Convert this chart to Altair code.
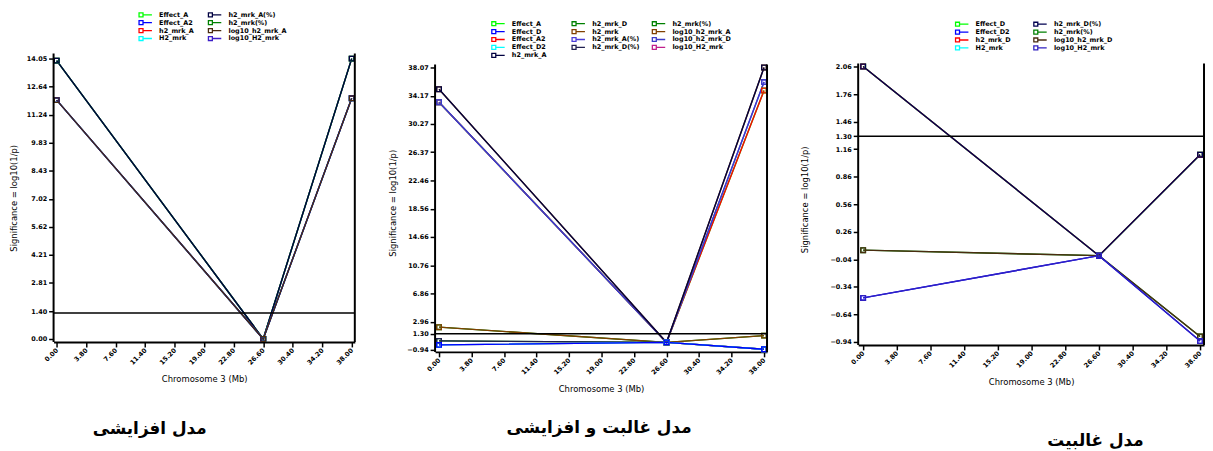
import altair as alt
import pandas as pd

FONT = "DejaVu Sans"
X_TITLE = "Chromosome 3 (Mb)"
Y_TITLE = "Significance = log10(1/p)"
THRESHOLD = 1.30
POS = [0.0, 26.6, 38.0]
X_TICKS = [0.00, 3.80, 7.60, 11.40, 15.20, 19.00, 22.80, 26.60, 30.40, 34.20, 38.00]

# ---------- panel 1 : additive model
P1_TITLE = "مدل افزایشی"
P1_LEGEND = [["Effect_A", "Effect_A2", "h2_mrk_A", "H2_mrk"],
             ["h2_mrk_A(%)", "h2_mrk(%)", "log10_h2_mrk_A", "log10_H2_mrk"]]
P1_NAMES = ["h2_mrk_A", "H2_mrk", "h2_mrk(%)", "h2_mrk_A(%)",
            "Effect_A", "log10_H2_mrk", "Effect_A2", "log10_h2_mrk_A"]
P1_COLORS = ["#ff0000", "#00ffff", "#008000", "#000040",
             "#00ff00", "#3c1ec8", "#0000ff", "#4a2c10"]
P1_VALUES = [[13.95, 0.00, 14.05], [13.95, 0.00, 14.05], [13.95, 0.00, 14.05], [13.95, 0.00, 14.05],
             [11.97, 0.00, 12.06], [11.97, 0.00, 12.06], [11.97, 0.00, 12.06], [11.97, 0.00, 12.06]]
P1_YTICKS = [0.00, 1.40, 2.81, 4.21, 5.62, 7.02, 8.43, 9.83, 11.24, 12.64, 14.05]

# ---------- panel 2 : dominance + additive model
P2_TITLE = "مدل غالبت و افزایشی"
P2_LEGEND = [["Effect_A", "Effect_D", "Effect_A2", "Effect_D2", "h2_mrk_A"],
             ["h2_mrk_D", "h2_mrk", "h2_mrk_A(%)", "h2_mrk_D(%)"],
             ["h2_mrk(%)", "log10_h2_mrk_A", "log10_h2_mrk_D", "log10_H2_mrk"]]
P2_NAMES = ["Effect_A", "Effect_A2", "h2_mrk_A(%)", "log10_h2_mrk_D", "log10_h2_mrk_A", "h2_mrk_A",
            "h2_mrk(%)", "h2_mrk", "h2_mrk_D", "h2_mrk_D(%)", "log10_H2_mrk", "Effect_D2", "Effect_D"]
P2_COLORS = ["#00ff00", "#ff0000", "#4a3cd8", "#3c3cc8", "#804000", "#000040",
             "#008000", "#804000", "#008000", "#202050", "#c0208c", "#00ffff", "#0000ff"]
P2_VALUES = [[33.28, 0.10, 34.90], [33.28, 0.10, 34.90], [33.28, 0.10, 36.06], [33.28, 0.10, 36.06],
             [35.06, 0.10, 38.07], [35.06, 0.10, 38.07], [2.20, 0.10, 1.03], [2.20, 0.10, 1.03],
             [0.30, 0.10, -0.85], [0.30, 0.10, -0.85], [-0.25, 0.10, -0.85], [-0.25, 0.10, -0.85],
             [-0.25, 0.10, -0.85]]
P2_YTICKS = [-0.94, 1.30, 2.96, 6.86, 10.76, 14.66, 18.56, 22.46, 26.37, 30.27, 34.17, 38.07]

# ---------- panel 3 : dominance model
P3_TITLE = "مدل غالبیت"
P3_LEGEND = [["Effect_D", "Effect_D2", "h2_mrk_D", "H2_mrk"],
             ["h2_mrk_D(%)", "h2_mrk(%)", "log10_h2_mrk_D", "log10_H2_mrk"]]
P3_NAMES = ["Effect_D", "H2_mrk", "h2_mrk_D", "h2_mrk_D(%)",
            "h2_mrk(%)", "log10_h2_mrk_D", "Effect_D2", "log10_H2_mrk"]
P3_COLORS = ["#00ff00", "#00ffff", "#ff0000", "#000050",
             "#008000", "#4a2c10", "#0000ff", "#3020c0"]
P3_VALUES = [[2.06, 0.00, 1.10], [2.06, 0.00, 1.10], [2.06, 0.00, 1.10], [2.06, 0.00, 1.10],
             [0.06, 0.00, -0.88], [0.06, 0.00, -0.88], [-0.46, 0.00, -0.93], [-0.46, 0.00, -0.93]]
P3_YTICKS = [-0.94, -0.64, -0.34, -0.04, 0.26, 0.56, 0.86, 1.16, 1.30, 1.46, 1.76, 2.06]

SYMBOL = "M-1.33,-1.33H1.33V1.33H-1.33Z M1.33,0H7.33"


def legend_order(cols):
    out = []
    for i in range(max(len(c) for c in cols)):
        for c in cols:
            if i < len(c):
                out.append(c[i])
    return out


def panel(names, colors, values, legend_cols, yticks, xdom, ydom, frame_top, width, height,
          leg_x, leg_y, col_pad, grid_align, title, title_dx, title_off, ytitle_pad):
    df = pd.DataFrame([{"series": n, "pos": p, "val": v}
                       for n, vals in zip(names, values) for p, v in zip(POS, vals)])
    order = legend_order(legend_cols)
    cmap = dict(zip(names, colors))
    color = alt.Color(
        "series:N",
        scale=alt.Scale(domain=order, range=[cmap[n] for n in order]),
        legend=alt.Legend(
            orient="none", legendX=leg_x, legendY=leg_y, columns=len(legend_cols),
            direction="horizontal", gridAlign=grid_align,
            title=None, symbolType=SYMBOL, symbolSize=9, symbolStrokeWidth=1.3,
            symbolFillColor="white", labelFont=FONT, labelFontSize=6.5,
            labelFontWeight="bold", labelColor="black", rowPadding=-2,
            columnPadding=col_pad, labelOffset=15, padding=0, symbolOffset=0,
        ),
    )
    x = alt.X("pos:Q", scale=alt.Scale(domain=xdom, nice=False, zero=False),
              axis=alt.Axis(values=X_TICKS, tickCount=100, format=".2f", labelAngle=-45,
                            labelAlign="right", labelBaseline="middle", labelFlush=False,
                            labelOverlap=False, labelPadding=2, title=X_TITLE, titlePadding=9))
    y = alt.Y("val:Q", scale=alt.Scale(domain=ydom, nice=False, zero=False),
              axis=alt.Axis(values=yticks, tickCount=100, format=".2f", labelFlush=False,
                            labelOverlap=False, labelPadding=2, domain=False,
                            title=Y_TITLE, titlePadding=ytitle_pad))
    lines = alt.Chart(df).mark_line(
        strokeWidth=1.4,
        point=alt.OverlayMarkDef(shape="square", filled=False, size=22, strokeWidth=1.3),
    ).encode(x=x, y=y, color=color)
    one = pd.DataFrame({"k": [0]})
    thr = alt.Chart(one).mark_rule(color="black", strokeWidth=1.5).encode(
        y=alt.datum(THRESHOLD))
    left = alt.Chart(one).mark_rule(color="black", strokeWidth=2).encode(
        x=alt.datum(xdom[0]), y=alt.datum(ydom[0]), y2=alt.datum(frame_top))
    right = alt.Chart(one).mark_rule(color="black", strokeWidth=2).encode(
        x=alt.datum(xdom[1]), y=alt.datum(ydom[0]), y2=alt.datum(frame_top))
    return alt.layer(lines, thr, left, right).properties(
        width=width, height=height,
        title=alt.TitleParams(title, orient="bottom", frame="group", dx=title_dx,
                              offset=title_off, font=FONT, fontSize=17,
                              fontWeight="bold", color="black"),
    )


p1 = panel(P1_NAMES, P1_COLORS, P1_VALUES, P1_LEGEND, P1_YTICKS,
           [-0.4, 38.4], [-0.149, 14.30], 14.30, 304, 291,
           85, -42.5, 11, "each", P1_TITLE, -55, 38, 8)
p2 = panel(P2_NAMES, P2_COLORS, P2_VALUES, P2_LEGEND, P2_YTICKS,
           [-0.463, 38.35], [-1.214, 39.99], 38.48, 335, 301,
           56, -33.5, -6, "all", P2_TITLE, -2, 27, 9.5)
p3 = panel(P3_NAMES, P3_COLORS, P3_VALUES, P3_LEGEND, P3_YTICKS,
           [-0.559, 38.447], [-0.972, 2.2003], 2.092, 349, 294,
           97, -33, 20, "each", P3_TITLE, 65, 47, 20.5)

chart = alt.hconcat(p1, p2, p3, spacing=32, bounds="full").resolve_scale(
    x="independent", y="independent", color="independent"
).properties(
    padding={"left": 1, "top": 1, "right": 0, "bottom": 0}
).configure_view(stroke=None).configure_axis(
    labelFont=FONT, labelFontSize=6.5, labelFontWeight="bold", labelColor="black",
    tickColor="black", tickSize=5, tickWidth=1.5, domainColor="black", domainWidth=2,
    grid=False, titleFont=FONT, titleFontSize=8.5, titleFontWeight="normal", titleColor="black",
    labelOverlap=False,
)

chart.save("out.html", embed_options={"renderer": "svg", "actions": False})
